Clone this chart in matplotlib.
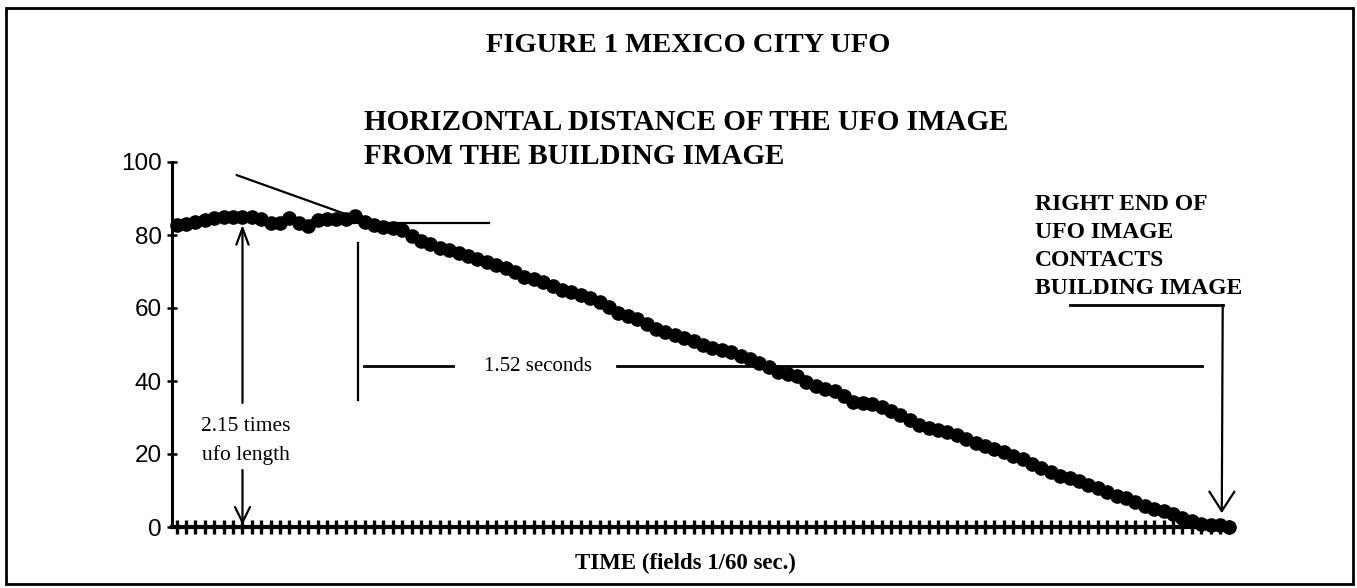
import matplotlib
matplotlib.use("Agg")
import matplotlib.pyplot as plt
from matplotlib.patches import Rectangle

# ---- data ----
fields = list(range(113))
distance = [
    82.7, 83.0, 83.6, 84.1, 84.7, 84.9, 84.9, 84.9, 84.9, 84.4,
    83.3, 83.3, 84.7, 83.3, 82.5, 84.1, 84.4, 84.4, 84.4, 85.2,
    83.6, 82.7, 82.2, 81.9, 81.4, 79.7, 78.4, 77.5, 76.4, 75.9,
    75.1, 74.2, 73.4, 72.6, 71.8, 71.0, 69.9, 68.5, 67.9, 67.1,
    66.0, 64.9, 64.4, 63.6, 62.7, 61.6, 60.3, 58.6, 57.8, 57.0,
    55.6, 54.2, 53.4, 52.6, 51.8, 51.0, 49.9, 49.0, 48.5, 47.9,
    46.8, 46.0, 44.9, 43.8, 42.5, 41.9, 41.4, 39.7, 38.6, 37.8,
    37.3, 35.9, 34.2, 34.0, 33.7, 32.9, 31.8, 30.7, 29.3, 27.9,
    27.1, 26.6, 26.0, 25.2, 24.1, 23.0, 22.2, 21.4, 20.5, 19.5,
    18.6, 17.3, 16.2, 15.1, 14.0, 13.4, 12.6, 11.5, 10.7, 9.6,
    8.5, 7.9, 6.8, 5.8, 4.9, 4.4, 3.6, 2.5, 1.6, 0.8,
    0.5, 0.5, 0.0,
]
y_ticks = [0, 20, 40, 60, 80, 100]
y_tick_labels = ["0", "20", "40", "60", "80", "100"]

title = "FIGURE 1 MEXICO CITY UFO"
subtitle = ["HORIZONTAL DISTANCE OF THE UFO IMAGE", "FROM THE BUILDING IMAGE"]
right_note = ["RIGHT END OF", "UFO IMAGE", "CONTACTS", "BUILDING IMAGE"]
xlabel = "TIME (fields 1/60 sec.)"

W, H = 1357, 588
fig = plt.figure(figsize=(W / 100, H / 100), dpi=100)
fig.patch.set_facecolor("white")

def fx(px):
    return px / W

def fy(py):
    return 1 - py / H

ax = fig.add_axes([fx(172), 61 / H, 1062 / W, 365 / H])
ax.set_xlim(-0.5, 112.5)
ax.set_ylim(0, 100)
ax.set_facecolor("none")

for s in ["top", "right"]:
    ax.spines[s].set_visible(False)
ax.spines["left"].set_linewidth(2.2)
ax.spines["bottom"].set_linewidth(3.0)
ax.spines["left"].set_bounds(0, 100)

ax.set_xticks(fields)
ax.set_xticklabels([])
ax.tick_params(axis="x", direction="inout", length=10, width=2.4, color="black")
ax.set_yticks(y_ticks)
ax.set_yticklabels(y_tick_labels, fontfamily="Liberation Sans", fontsize=17.5)
ax.tick_params(axis="y", direction="inout", length=7, width=1.8, pad=4, color="black")

# data curve
ax.plot(fields, distance, color="black", lw=6, marker="o", ms=9.5,
        mec="black", mfc="black", clip_on=False, zorder=3,
        solid_joinstyle="round", solid_capstyle="round")

lw = 1.6
# tangent line
ax.plot([6.4, 17.9], [96.4, 85.8], color="black", lw=lw)
# horizontal reference line
ax.plot([16.5, 33.2], [83.3, 83.3], color="black", lw=lw)
# vertical line marking start of 1.52 s interval
ax.plot([19.3, 19.3], [77.8, 34.8], color="black", lw=lw)
# 1.52 seconds dimension line
ax.plot([19.9, 29.4], [44.0, 44.0], color="black", lw=2.0)
ax.plot([46.8, 109.1], [44.0, 44.0], color="black", lw=2.0)
ax.text(38.4, 44.0, "1.52 seconds", ha="center", va="center",
        fontfamily="Liberation Serif", fontsize=15)

# 2.15 times ufo length arrows
ax.annotate("", xy=(7.0, 82.8), xytext=(7.0, 34.0),
            arrowprops=dict(arrowstyle="->,head_length=0.6,head_width=0.22",
                            lw=lw, color="black", mutation_scale=20,
                            shrinkA=0, shrinkB=0))
ax.annotate("", xy=(7.0, 0.6), xytext=(7.0, 15.6),
            arrowprops=dict(arrowstyle="->,head_length=0.55,head_width=0.27",
                            lw=lw, color="black", mutation_scale=20,
                            shrinkA=0, shrinkB=0))
ax.text(7.4, 27.4, "2.15 times", ha="center", va="center",
        fontfamily="Liberation Serif", fontsize=15.5)
ax.text(7.4, 19.7, "ufo length", ha="center", va="center",
        fontfamily="Liberation Serif", fontsize=15.5)

# right end arrow
ax.plot([95.1, 111.3], [60.8, 60.8], color="black", lw=2.0)
ax.annotate("", xy=(111.2, 3.8), xytext=(111.3, 60.8),
            arrowprops=dict(arrowstyle="->,head_length=0.7,head_width=0.45",
                            lw=lw, color="black", mutation_scale=20,
                            shrinkA=0, shrinkB=0))

# texts in figure coordinates
fig.text(fx(688), fy(45), title, ha="center", va="center",
         fontfamily="Liberation Serif", fontweight="bold", fontsize=20.5)
fig.text(fx(364), fy(122), subtitle[0], ha="left", va="center",
         fontfamily="Liberation Serif", fontweight="bold", fontsize=21)
fig.text(fx(364), fy(157), subtitle[1], ha="left", va="center",
         fontfamily="Liberation Serif", fontweight="bold", fontsize=21)
for i, line in enumerate(right_note):
    fig.text(fx(1035), fy(205 + 27.7 * i), line, ha="left", va="center",
             fontfamily="Liberation Serif", fontweight="bold", fontsize=17)
fig.text(fx(685), fy(563), xlabel, ha="center", va="center",
         fontfamily="Liberation Serif", fontweight="bold", fontsize=16.5)

# outer frame
fig.add_artist(Rectangle((fx(6), fy(584)), fx(1353) - fx(6), fy(8) - fy(584),
                         transform=fig.transFigure, fill=False,
                         edgecolor="black", lw=2.0))

fig.savefig("out.png", dpi=100, facecolor="white")
